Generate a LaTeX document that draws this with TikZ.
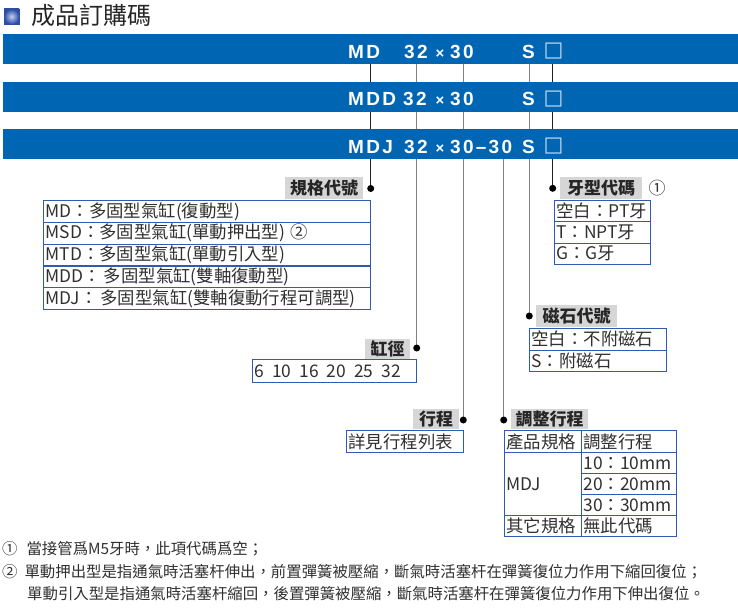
\documentclass[tikz,border=0pt]{standalone}
\usepackage{fontspec}
\setmainfont{Noto Sans CJK TC}
\newfontfamily\barfont[LetterSpace=12]{Liberation Sans}
\newfontfamily\symfont{DejaVu Sans}
\definecolor{barblue}{HTML}{0066B3}
\definecolor{tblue}{HTML}{2F5DAE}
\definecolor{labgray}{HTML}{D6D6D6}
\definecolor{txt}{HTML}{303030}
\definecolor{lgray}{HTML}{808080}
\definecolor{dline}{HTML}{202020}
\definecolor{sqcol}{HTML}{C9DCF0}
\definecolor{iconout}{HTML}{2C4DA6}
\definecolor{iconin}{HTML}{C4CEF2}
\pgfdeclarelayer{bg}
\pgfsetlayers{bg,main}
\tikzset{
  bar/.style={fill=barblue, minimum width=735pt, minimum height=30pt, inner sep=0pt, anchor=north west},
  bt/.style={text=white, font=\barfont\bfseries\fontsize{19}{20}\selectfont, inner sep=0pt, anchor=base west},
  bx/.style={text=white, font=\barfont\bfseries\fontsize{15}{16}\selectfont, inner sep=0pt, anchor=base},
  sq/.style={text=sqcol, font=\symfont\fontsize{21}{22}\selectfont, inner sep=0pt, anchor=center},
  lab/.style={fill=labgray, inner sep=0pt, font=\fontsize{17}{19}\selectfont\bfseries, text=black!85, anchor=north west},
  cell/.style={draw=tblue, line width=1.1pt, inner xsep=2pt, inner ysep=0pt, anchor=north west, align=left, font=\fontsize{17.4}{19}\selectfont, text=txt},
  dot/.style={circle, fill=black, inner sep=0pt, minimum size=7pt},
  dconn/.style={draw=dline, line width=1.3pt},
  gconn/.style={draw=lgray, line width=1.3pt},
  note/.style={anchor=west, inner sep=0pt, font=\fontsize{15.4}{17}\selectfont, text=txt},
}
\begin{document}
\begin{tikzpicture}[x=1pt,y=-1pt]
\useasboundingbox (0,0) rectangle (738,612);

% title
\shade[inner color=iconin, outer color=iconout] (4,9) rectangle (19,24);
\draw[iconout, line width=0.6pt] (4,9) rectangle (19,24);
\node[anchor=west, inner sep=0pt, font=\fontsize{24}{26}\selectfont, text=black!85] (title) at (31,15.5) {成品訂購碼};

% bars
\node[bar] (bar1) at (3,34) {};
\node[bar] (bar2) at (3,82) {};
\node[bar] (bar3) at (3,129) {};

\node[bt] (b1a) at (348,58.3) {MD};
\node[bt] (b1b) at (404,58.3) {32};
\node[bx] (b1c) at (440,58.3) {×};
\node[bt] (b1d) at (450,58.3) {30};
\node[bt] (b1e) at (522,58.3) {S};
\node[sq] (b1f) at (553.5,51) {□};

\node[bt] (b2a) at (348,106) {MDD};
\node[bt] (b2b) at (403,106) {32};
\node[bx] (b2c) at (440,106) {×};
\node[bt] (b2d) at (450,106) {30};
\node[bt] (b2e) at (522,106) {S};
\node[sq] (b2f) at (553.5,98.7) {□};

\node[bt] (b3a) at (348,153.3) {MDJ};
\node[bt] (b3b) at (404,153.3) {32};
\node[bx] (b3c) at (440,153.3) {×};
\node[bt] (b3d) at (450,153.3) {30–30};
\node[bt] (b3e) at (522,153.3) {S};
\node[sq] (b3f) at (553.5,146) {□};

% dots
\node[dot] (dspec) at (370.7,188.5) {};
\node[dot] (dthr) at (552.7,188.3) {};
\node[dot] (dbore) at (416.7,348) {};
\node[dot] (dmag) at (529.3,316) {};
\node[dot] (dstr) at (463.3,420) {};
\node[dot] (dadj) at (503.7,420) {};

% connectors behind bars
\begin{pgfonlayer}{bg}
\draw[dconn] (dspec |- bar1.south) -- (dspec.center);
\draw[dconn] (dthr |- bar1.south) -- (dthr.center);
\draw[gconn] (dbore |- bar1.south) -- (dbore.center);
\draw[gconn] (dmag |- bar1.south) -- (dmag.center);
\draw[gconn] (dstr |- bar1.south) -- (dstr.center);
\draw[gconn] (dadj |- bar3.south) -- (dadj.center);
\end{pgfonlayer}

% labels
\node[lab, minimum width=78pt, minimum height=22pt] (lspec) at (285,177) {規格代號};
\node[lab, minimum width=82pt, minimum height=22pt] (lthr) at (560,177) {牙型代碼};
\node[anchor=center, inner sep=0pt, font=\fontsize{17}{19}\selectfont, text=txt] (c1) at (657,188) {①};
\node[lab, minimum width=45pt, minimum height=20pt] (lbore) at (365,338.5) {缸徑};
\node[lab, minimum width=81pt, minimum height=22pt] (lmag) at (536,305) {磁石代號};
\node[lab, minimum width=46pt, minimum height=20pt] (lstr) at (413,409) {行程};
\node[lab, minimum width=77pt, minimum height=20pt] (ladj) at (511,409) {調整行程};

% spec table
\node[cell, text width=323pt, minimum height=21.8pt] (g1) at (43,200) {MD：多固型氣缸(復動型)};
\node[cell, text width=323pt, minimum height=21.8pt] (g2) at (43,221.8) {MSD：多固型氣缸(單動押出型) ②};
\node[cell, text width=323pt, minimum height=21.8pt] (g3) at (43,243.6) {MTD：多固型氣缸(單動引入型)};
\node[cell, text width=323pt, minimum height=21.8pt] (g4) at (43,265.4) {MDD：\,多固型氣缸(雙軸復動型)};
\node[cell, text width=323pt, minimum height=21.8pt] (g5) at (43,287.2) {MDJ：\,多固型氣缸(雙軸復動行程可調型)};

% bore
\node[cell, text width=160pt, minimum height=23pt] (bore) at (252,359) {6\hspace{8pt}10\hspace{8pt}16\hspace{8pt}20\hspace{8pt}25\hspace{8pt}32};

% stroke
\node[cell, text width=113pt, minimum height=22pt] (stroke) at (346,430) {詳見行程列表};

% thread table
\node[cell, text width=92pt, minimum height=21.3pt] (t1) at (554,200) {空白：PT牙};
\node[cell, text width=92pt, minimum height=21.3pt] (t2) at (554,221.3) {T：NPT牙};
\node[cell, text width=92pt, minimum height=21.3pt] (t3) at (554,242.6) {G：G牙};

% magnet table
\node[cell, text width=133pt, minimum height=21.5pt] (m1) at (529,328) {空白：不附磁石};
\node[cell, text width=133pt, minimum height=21.5pt] (m2) at (529,349.5) {S：附磁石};

% adjust table
\node[cell, text width=73pt, minimum height=22pt] (a11) at (504,430) {產品規格};
\node[cell, text width=91pt, minimum height=22pt] (a12) at (581,430) {調整行程};
\node[cell, text width=73pt, minimum height=63pt] (a21) at (504,452) {MDJ};
\node[cell, text width=91pt, minimum height=21pt] (a22) at (581,452) {10：10mm};
\node[cell, text width=91pt, minimum height=21pt] (a32) at (581,473) {20：20mm};
\node[cell, text width=91pt, minimum height=21pt] (a42) at (581,494) {30：30mm};
\node[cell, text width=73pt, minimum height=21pt] (a51) at (504,515) {其它規格};
\node[cell, text width=91pt, minimum height=21pt] (a52) at (581,515) {無此代碼};

% notes
\node[note] (n1) at (2,549) {①\hspace{9pt}當接管爲M5牙時，此項代碼爲空；};
\node[note] (n2) at (2,571.5) {②\hspace{7pt}單動押出型是指通氣時活塞杆伸出，前置彈簧被壓縮，斷氣時活塞杆在彈簧復位力作用下縮回復位；};
\node[note] (n3) at (27,594) {單動引入型是指通氣時活塞杆縮回，後置彈簧被壓縮，斷氣時活塞杆在彈簧復位力作用下伸出復位。};
\end{tikzpicture}
\end{document}
